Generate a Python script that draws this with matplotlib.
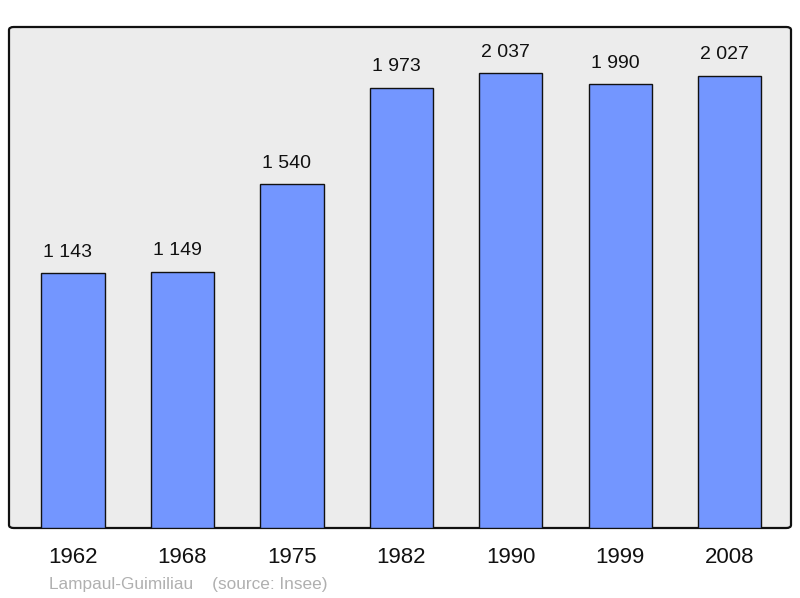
import matplotlib
matplotlib.use("Agg")
import matplotlib.pyplot as plt
from matplotlib.patches import FancyBboxPatch

years = ["1962", "1968", "1975", "1982", "1990", "1999", "2008"]
population = [1143, 1149, 1540, 1973, 2037, 1990, 2027]
value_labels = ["1 143", "1 149", "1 540", "1 973", "2 037", "1 990", "2 027"]
caption = "Lampaul-Guimiliau    (source: Insee)"

plt.rcParams['font.family'] = ['Liberation Sans', 'DejaVu Sans']

fig = plt.figure(figsize=(8.0, 5.98), dpi=100)
ax = fig.add_axes([9/800, 1 - 528/598, 782/800, 501/598])
ax.patch.set_visible(False)
for s in ax.spines.values():
    s.set_visible(False)

bg = FancyBboxPatch((0, 0), 1, 1, boxstyle="round,pad=0,rounding_size=0.006",
                    transform=ax.transAxes, facecolor="#ececec", edgecolor="#111111",
                    linewidth=1.6, zorder=0, clip_on=False)
ax.add_patch(bg)

x = list(range(len(years)))
bars = ax.bar(x, population, width=0.577, color="#7396ff", edgecolor="#111111",
              linewidth=1.0, zorder=2)
for xi, v, lab in zip(x, population, value_labels):
    ax.annotate(lab, (xi, v), xytext=(-3.8, 8.8), textcoords="offset points",
                ha="center", va="bottom", fontsize=14, color="#111111")

ax.set_xlim(-0.585, 6.559)
ax.set_ylim(0, 2245)
ax.set_yticks([])
ax.set_xticks(x)
ax.set_xticklabels(years, fontsize=16, color="#111111")
ax.tick_params(axis="x", length=0, pad=14)

fig.text(49/800, 1 - 584/598, caption, fontsize=12.4, color="#b0b0b0",
         ha="left", va="center")

fig.savefig("out.png", dpi=100)
